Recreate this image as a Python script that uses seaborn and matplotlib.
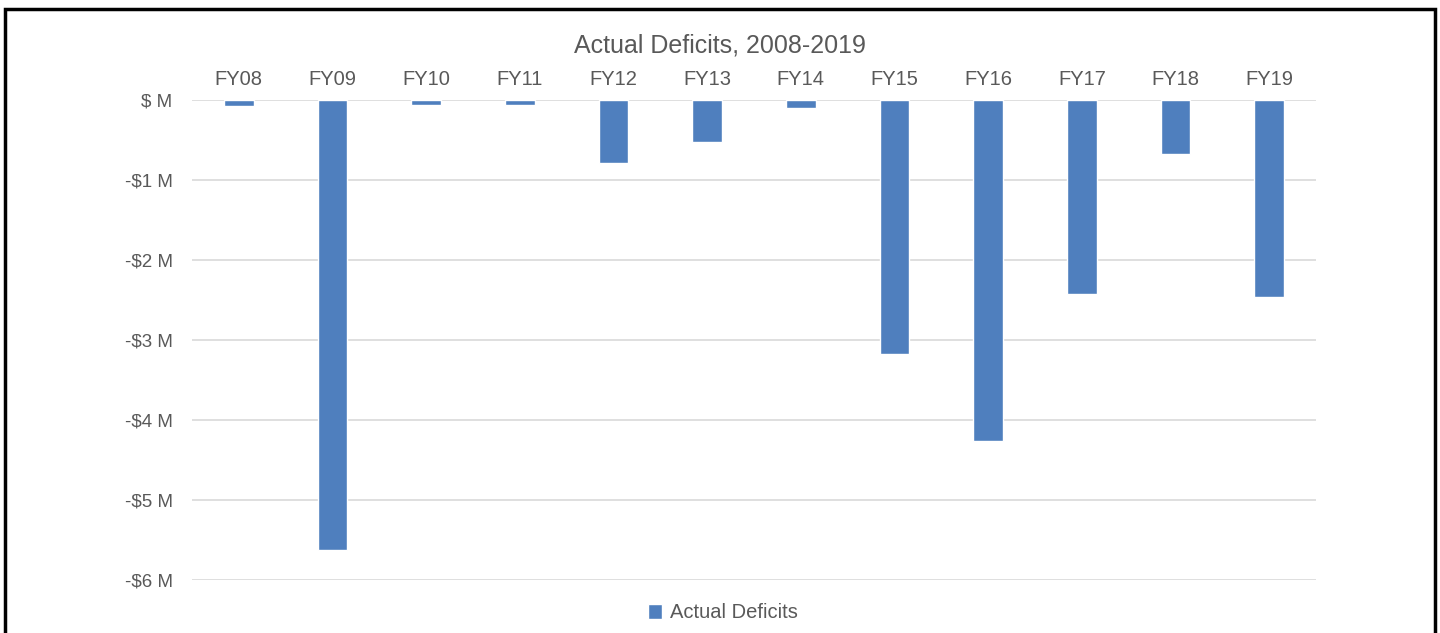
import matplotlib
matplotlib.use("Agg")
import matplotlib.pyplot as plt
import matplotlib.ticker as mticker
from matplotlib.patches import Rectangle
import pandas as pd
import seaborn as sns

# deficits, in $ millions
years = ["FY08", "FY09", "FY10", "FY11", "FY12", "FY13",
         "FY14", "FY15", "FY16", "FY17", "FY18", "FY19"]
deficits = [-0.07, -5.62, -0.06, -0.06, -0.79, -0.52,
            -0.10, -3.17, -4.26, -2.42, -0.68, -2.46]
y_ticks = [0, -1, -2, -3, -4, -5, -6]

title = "Actual Deficits, 2008-2019"
series_name = "Actual Deficits"

bar_color = "#4f7fbe"
text_color = "#595959"
grid_color = "#d9d9d9"

df = pd.DataFrame({"Year": years, series_name: deficits})

sns.set_style("white")
plt.rcParams["font.family"] = ["Liberation Sans", "DejaVu Sans"]

fig = plt.figure(figsize=(14.4, 6.33), dpi=100)
ax = fig.add_axes([192 / 1440, 1 - 580 / 633, (1316 - 192) / 1440, 480 / 633])

sns.barplot(data=df, x="Year", y=series_name, color=bar_color,
            width=0.32, saturation=1, ax=ax, label=series_name)
handles, labels = ax.get_legend_handles_labels()
if ax.get_legend() is not None:
    ax.get_legend().remove()

ax.set_ylim(-6, 0)
ax.set_yticks(y_ticks)
ax.yaxis.set_major_formatter(
    mticker.FuncFormatter(lambda v, pos: "$ M" if v == 0 else f"-${abs(v):.0f} M")
)
ax.grid(True, axis="y", color=grid_color, linewidth=1.2)
ax.set_axisbelow(True)
for side in ax.spines.values():
    side.set_visible(False)

ax.xaxis.tick_top()
ax.tick_params(axis="x", length=0, pad=8, labelsize=14.5, labelcolor=text_color)
ax.tick_params(axis="y", length=0, pad=14, labelsize=13.5, labelcolor=text_color)
ax.set_xlabel("")
ax.set_ylabel("")

fig.text(0.5, 1 - 45 / 633, title, ha="center", va="center",
         fontsize=18, color=text_color)

fig.legend(handles[:1], labels[:1], loc="center", bbox_to_anchor=(0.502, 1 - 613 / 633),
           frameon=False, fontsize=14.5, labelcolor=text_color,
           handlelength=0.7, handleheight=0.7, handletextpad=0.4)

# black frame around the whole picture
fig.patches.append(Rectangle((5 / 1440, -0.05), 1430 / 1440, 1.05 - 9 / 633,
                             transform=fig.transFigure, fill=False,
                             edgecolor="black", linewidth=2.5))

fig.savefig("out.png", dpi=100, facecolor="white")
